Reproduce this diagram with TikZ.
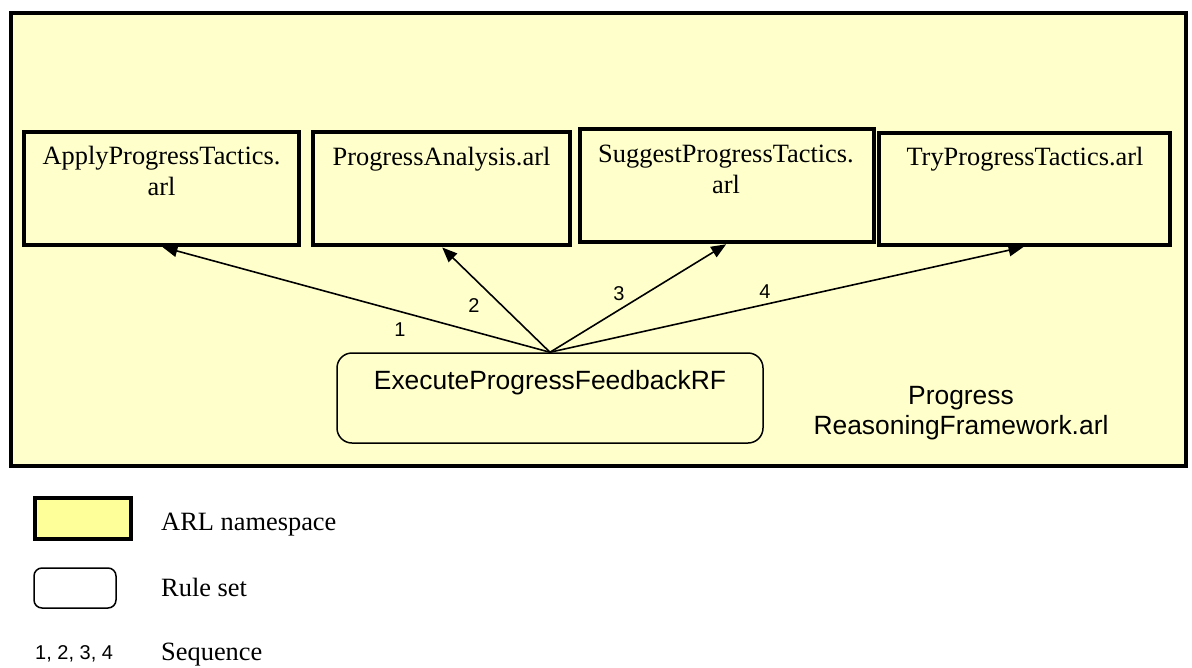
\documentclass[tikz,border=0pt]{standalone}
\usepackage{fontspec}
\setmainfont{Liberation Serif}
\setsansfont{Liberation Sans}
\usetikzlibrary{arrows.meta,calc}
\definecolor{nsfill}{HTML}{FFFFCC}
\definecolor{legfill}{HTML}{FFFF99}
\begin{document}
\begin{tikzpicture}[x=1pt,y=-1pt,
  nsbox/.style={draw, line width=4pt, fill=nsfill, inner sep=0pt},
  arlbox/.style={draw, line width=3.5pt, fill=nsfill, inner sep=0pt},
  rulebox/.style={draw, line width=1.5pt, rounded corners=15pt, inner sep=0pt},
  serif/.style={font=\fontsize{26.4}{30.5}\selectfont, align=center, inner sep=0pt, anchor=base},
  sans/.style={font=\sffamily\fontsize{26.4}{29.5}\selectfont, align=center, inner sep=0pt, anchor=base},
  seqlbl/.style={font=\sffamily\fontsize{20}{24}\selectfont, inner sep=0pt, anchor=base},
  arr/.style={-{Triangle[length=15pt,width=12pt]}, line width=1.6pt, shorten >=1pt}]
\useasboundingbox (0,0) rectangle (1192,667);

% namespace frame
\node[nsbox, minimum width=1174.5pt, minimum height=453pt] (ns) at (598.25,239.5) {};

% arl files
\node[arlbox, minimum width=275pt, minimum height=113pt] (b1) at (161.5,188.5) {};
\node[arlbox, minimum width=257pt, minimum height=113pt] (b2) at (441.5,188.5) {};
\node[arlbox, minimum width=294pt, minimum height=113pt] (b3) at (727,185.5) {};
\node[arlbox, minimum width=291pt, minimum height=112pt] (b4) at (1024.5,189) {};

% (base of a two-line node is the baseline of its last line)
\node[serif] (t1) at (161.5,195) {ApplyProgressTactics.\\arl};
\node[serif] (t2) at (441.5,165) {ProgressAnalysis.arl};
\node[serif] (t3) at (726,193) {SuggestProgressTactics.\\arl};
\node[serif] (t4) at (1025,165) {TryProgressTactics.arl};

% rule set
\node[rulebox, minimum width=426pt, minimum height=90pt] (ex) at (550,398) {};
\node[sans] (ext) at (550,389) {ExecuteProgressFeedbackRF};

% namespace title
\node[sans] (title) at (961,434) {Progress\\ReasoningFramework.arl};

% arrows
\draw[arr] (ex.north) -- (b1.south);
\draw[arr] (ex.north) -- (b2.south);
\draw[arr] (ex.north) -- (b3.south);
\draw[arr] (ex.north) -- (b4.south);

\node[seqlbl] (s1) at (400,336) {1};
\node[seqlbl] (s2) at (474,312) {2};
\node[seqlbl] (s3) at (619,300) {3};
\node[seqlbl] (s4) at (765,298) {4};

% legend
\node[draw, line width=3.5pt, fill=legfill, inner sep=0pt, minimum width=96pt, minimum height=41pt] (lg1) at (83,518.5) {};
\node[serif, anchor=base west] (lt1) at (161,530) {ARL namespace};
\node[draw, line width=1.5pt, rounded corners=8pt, fill=white, inner sep=0pt, minimum width=82pt, minimum height=40pt] (lg2) at (75,588) {};
\node[serif, anchor=base west] (lt2) at (161,596) {Rule set};
\node[seqlbl, anchor=base west] (lg3) at (35,659) {1, 2, 3, 4};
\node[serif, anchor=base west] (lt3) at (161,660) {Sequence};
\end{tikzpicture}
\end{document}
